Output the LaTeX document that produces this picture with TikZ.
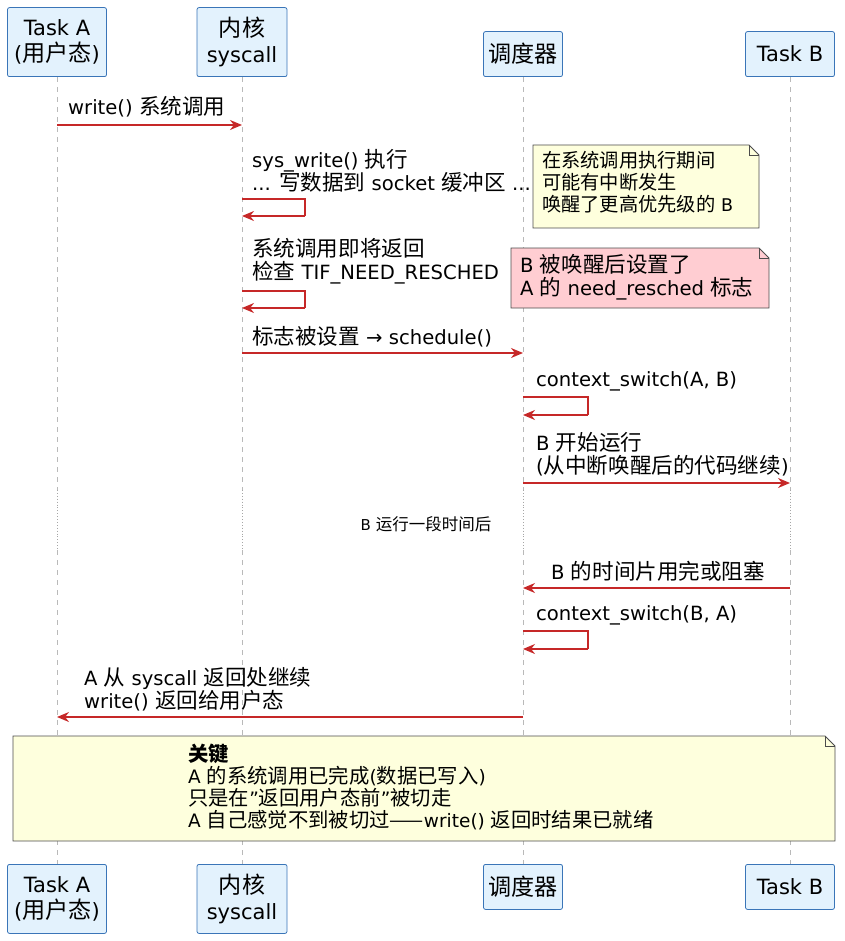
\documentclass[tikz,border=0pt]{standalone}
\usepackage{fontspec}
\setmainfont{DejaVu Sans}
\usetikzlibrary{arrows.meta}
\makeatletter
\def\cjkon{\begingroup\font\tmpcjk="Noto Sans CJK SC" at \fpeval{1.10*\f@size}pt\relax\tmpcjk}
\def\cjkbon{\begingroup\font\tmpcjk="Noto Sans CJK SC/B" at \fpeval{1.10*\f@size}pt\relax\tmpcjk}
\makeatother
\XeTeXinterchartokenstate=1
\newXeTeXintercharclass\CJKc
\count255="3000
\loop \XeTeXcharclass\count255=\CJKc \advance\count255 by 1 \ifnum\count255<"A000 \repeat
\XeTeXcharclass"2014=\CJKc
\XeTeXinterchartoks 0 \CJKc = {\cjkon}
\XeTeXinterchartoks 4095 \CJKc = {\cjkon}
\XeTeXinterchartoks \CJKc 0 = {\endgroup}
\XeTeXinterchartoks \CJKc 4095 = {\endgroup}
\definecolor{pfill}{HTML}{E3F2FD}
\definecolor{pdraw}{HTML}{3A75B8}
\definecolor{msg}{HTML}{C62828}
\definecolor{nyel}{HTML}{FEFFDD}
\definecolor{npink}{HTML}{FFCDD2}
\begin{document}
\begin{tikzpicture}[x=1pt,y=-1pt,
 part/.style={draw=pdraw,fill=pfill,rounded corners=2pt,align=center,font=\fontsize{21}{26}\selectfont,inner sep=0pt,line width=0.8pt},
 life/.style={gray!55,dash pattern=on 5pt off 5pt,line width=0.8pt},
 m/.style={draw=msg,line width=1.4pt,-{Stealth[length=12pt,width=10pt]}},
 lab/.style={anchor=south west,inner sep=0pt,align=left,font=\fontsize{19.6}{23}\selectfont},
 note/.style={draw=black!70,line width=0.8pt}]
\useasboundingbox (0,0) rectangle (844,941);
\foreach \n/\cx/\w/\t/\top/\txt in {a/57/99/t/8/{Task A\\(用户态)},k/242/90/t/8/{内核\\syscall},s/523/79/t/32/{调度器},b/790/89/t/32/{Task B}}{
 \node[part,minimum width=\w pt,minimum height=77pt-\top pt,anchor=south] (\n top) at (\cx,77) {\txt};
}
\node[part,minimum width=99pt,minimum height=69pt,anchor=north] (abot) at (57,864) {Task A\\(用户态)};
\node[part,minimum width=90pt,minimum height=69pt,anchor=north] (kbot) at (242,864) {内核\\syscall};
\node[part,minimum width=79pt,minimum height=45pt,anchor=north] (sbot) at (523,864) {调度器};
\node[part,minimum width=89pt,minimum height=45pt,anchor=north] (bbot) at (790,864) {Task B};
\foreach \n/\cx in {a/57,k/242,s/523,b/790}{
 \coordinate (\n1) at (\cx,490); \coordinate (\n2) at (\cx,550);
 \draw[life] (\n top.south) -- (\n1);
 \draw[gray!70,dotted,line width=0.9pt] (\n1) -- (\n2);
 \draw[life] (\n2) -- (\n bot.north);
}
\node[inner sep=0pt,font=\fontsize{15}{16}\selectfont] (delay) at (426,524) {B 运行一段时间后};
\coordinate (a125) at (57,125); \coordinate (k125) at (242,125);
\draw[m] (a125) -- (k125);
\node[lab] (l1) at (68,117) {write() 系统调用};
\foreach \y/\w in {199/305,291/305}{
 \coordinate (ks\y) at (242,\y); \coordinate (kx\y) at (\w,\y); \coordinate (ky\y) at (\w,\y+17); \coordinate (ke\y) at (242,\y+17);
 \draw[msg,line width=1.4pt] (ks\y) -- (kx\y) -- (ky\y);
 \draw[m] (ky\y) -- (ke\y);
}
\node[lab] (l2) at (252,192) {sys\_write() 执行\\... 写数据到 socket 缓冲区 ...};
\node[lab] (l3) at (252,284) {系统调用即将返回\\检查 TIF\_NEED\_RESCHED};
\coordinate (k353) at (242,353); \coordinate (s353) at (523,353);
\draw[m] (k353) -- (s353);
\node[lab] (l4) at (252,347) {标志被设置 → schedule()};
\foreach \y in {397,631}{
 \coordinate (ss\y) at (523,\y); \coordinate (sx\y) at (588,\y); \coordinate (sy\y) at (588,\y+18); \coordinate (se\y) at (523,\y+18);
 \draw[msg,line width=1.4pt] (ss\y) -- (sx\y) -- (sy\y);
 \draw[m] (sy\y) -- (se\y);
}
\node[lab] (l5) at (536,391) {context\_switch(A, B)};
\node[lab] (l8) at (536,625) {context\_switch(B, A)};
\coordinate (s483) at (523,483); \coordinate (b483) at (790,483);
\draw[m] (s483) -- (b483);
\node[lab] (l6) at (536,476) {B 开始运行\\(从中断唤醒后的代码继续)};
\coordinate (b588) at (790,588); \coordinate (s588) at (523,588);
\draw[m] (b588) -- (s588);
\node[lab] (l7) at (551,582) {B 的时间片用完或阻塞};
\coordinate (s717) at (523,717); \coordinate (a717) at (57,717);
\draw[m] (s717) -- (a717);
\node[lab] (l9) at (84,711) {A 从 syscall 返回处继续\\write() 返回给用户态};
\draw[note,fill=nyel] (533,145) -- (749,145) -- (759,155) -- (759,228) -- (533,228) -- cycle;
\draw[note] (749,145) -- (749,155) -- (759,155);
\node[lab,anchor=north west,font=\fontsize{17.5}{22}\selectfont] (n1) at (542,151) {在系统调用执行期间\\可能有中断发生\\唤醒了更高优先级的 B};
\draw[note,fill=npink] (511,248) -- (759,248) -- (769,258) -- (769,308) -- (511,308) -- cycle;
\draw[note] (759,248) -- (759,258) -- (769,258);
\node[lab,anchor=north west] (n2) at (520,254) {B 被唤醒后设置了\\A 的 need\_resched 标志};
\draw[note,fill=nyel] (13,736) -- (825,736) -- (835,746) -- (835,841) -- (13,841) -- cycle;
\draw[note] (825,736) -- (825,746) -- (835,746);
\node[lab,anchor=north west,font=\fontsize{18.5}{22}\selectfont] (n3) at (188,744) {{\XeTeXinterchartokenstate=0 \cjkbon 关键\endgroup}\\A 的系统调用已完成(数据已写入)\\只是在\symbol{34}返回用户态前\symbol{34}被切走\\A 自己感觉不到被切过——write() 返回时结果已就绪};
\end{tikzpicture}
\end{document}
